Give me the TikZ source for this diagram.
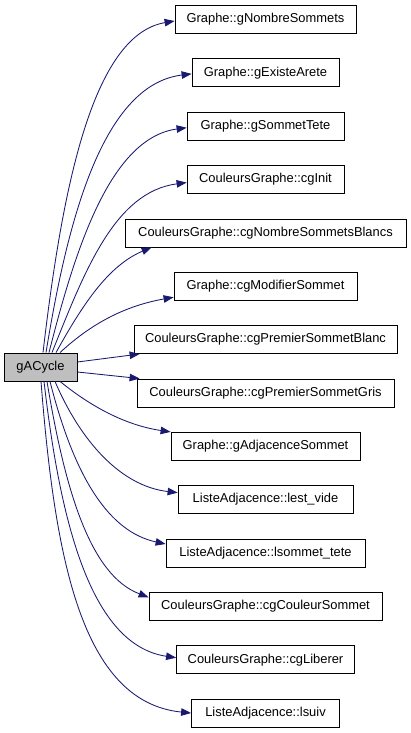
\documentclass[tikz,border=0pt]{standalone}
\usepackage{fontspec}
\setmainfont{Liberation Sans}
\usetikzlibrary{arrows.meta}
\definecolor{edgeblue}{HTML}{191970}
\definecolor{selgrey}{HTML}{BFBFBF}
\begin{document}
\begin{tikzpicture}[x=1pt,y=-1pt,
  box/.style={draw=black,line width=0.8pt,fill=white,minimum height=28pt,inner sep=0pt,
    font=\fontsize{12.9}{14}\selectfont,text=black},
  edge/.style={draw=edgeblue,line width=0.85pt,-{Triangle[length=10pt,width=7.5pt]}}]
\useasboundingbox (0,0) rectangle (411,733);
\node[box,fill=selgrey,minimum width=73pt] (g) at (40.5,367) {gACycle};
\node[box,minimum width=181pt] (n1) at (265.5,19.5) {Graphe::gNombreSommets};
\node[box,minimum width=147pt] (n2) at (265.5,72.85) {Graphe::gExisteArete};
\node[box,minimum width=157pt] (n3) at (265.5,126.2) {Graphe::gSommetTete};
\node[box,minimum width=157pt] (n4) at (265.5,179.55) {CouleursGraphe::cgInit};
\node[box,minimum width=281pt] (n5) at (265.5,232.9) {CouleursGraphe::cgNombreSommetsBlancs};
\node[box,minimum width=183pt] (n6) at (265.5,286.25) {Graphe::cgModifierSommet};
\node[box,minimum width=263pt] (n7) at (265.5,339.6) {CouleursGraphe::cgPremierSommetBlanc};
\node[box,minimum width=257pt] (n8) at (265.5,392.95) {CouleursGraphe::cgPremierSommetGris};
\node[box,minimum width=189pt] (n9) at (265.5,446.3) {Graphe::gAdjacenceSommet};
\node[box,minimum width=175pt] (n10) at (265.5,499.65) {ListeAdjacence::lest\_vide};
\node[box,minimum width=199pt] (n11) at (265.5,553) {ListeAdjacence::lsommet\_tete};
\node[box,minimum width=233pt] (n12) at (265.5,606.35) {CouleursGraphe::cgCouleurSommet};
\node[box,minimum width=178pt] (n13) at (265.5,659.7) {CouleursGraphe::cgLiberer};
\node[box,minimum width=148pt] (n14) at (265.5,713.05) {ListeAdjacence::lsuiv};
\draw[edge] ([xshift=2.5pt]g.north) .. controls (62,190) and (92,35) .. ([yshift=-1.5pt]n1.west);
\draw[edge] ([xshift=5.5pt]g.north) .. controls (66,230) and (100,85) .. ([yshift=-1pt]n2.west);
\draw[edge] ([xshift=8.5pt]g.north) .. controls (75,250) and (110,138) .. ([yshift=-1.5pt]n3.west);
\draw[edge] ([xshift=11.5pt]g.north) .. controls (85,270) and (115,192) .. ([yshift=-3pt]n4.west);
\draw[edge] ([xshift=15.5pt]g.north) .. controls (85,300) and (110,265) .. ([xshift=27pt]n5.south west);
\draw[edge] ([xshift=19.5pt]g.north) .. controls (95,320) and (130,305) .. ([yshift=-11pt]n6.west);
\draw[edge] ([yshift=5pt]g.east) -- ([xshift=6pt]n7.south west);
\draw[edge] ([yshift=-5pt]g.east) -- ([xshift=3pt]n8.north west);
\draw[edge] ([xshift=19.5pt]g.south) .. controls (95,410) and (130,426) .. (n9.north west);
\draw[edge] ([xshift=14.5pt]g.south) .. controls (80,440) and (120,486) .. ([yshift=7pt]n10.west);
\draw[edge] ([xshift=9.5pt]g.south) .. controls (75,480) and (110,532) .. ([yshift=9pt]n11.west);
\draw[edge] ([xshift=6.5pt]g.south) .. controls (65,490) and (90,575) .. ([yshift=9pt]n12.west);
\draw[edge] ([xshift=3.5pt]g.south) .. controls (60,520) and (90,645) .. ([yshift=2pt]n13.west);
\draw[edge] ([xshift=0.5pt]g.south) .. controls (55,560) and (82,702) .. (n14.west);
\end{tikzpicture}
\end{document}
